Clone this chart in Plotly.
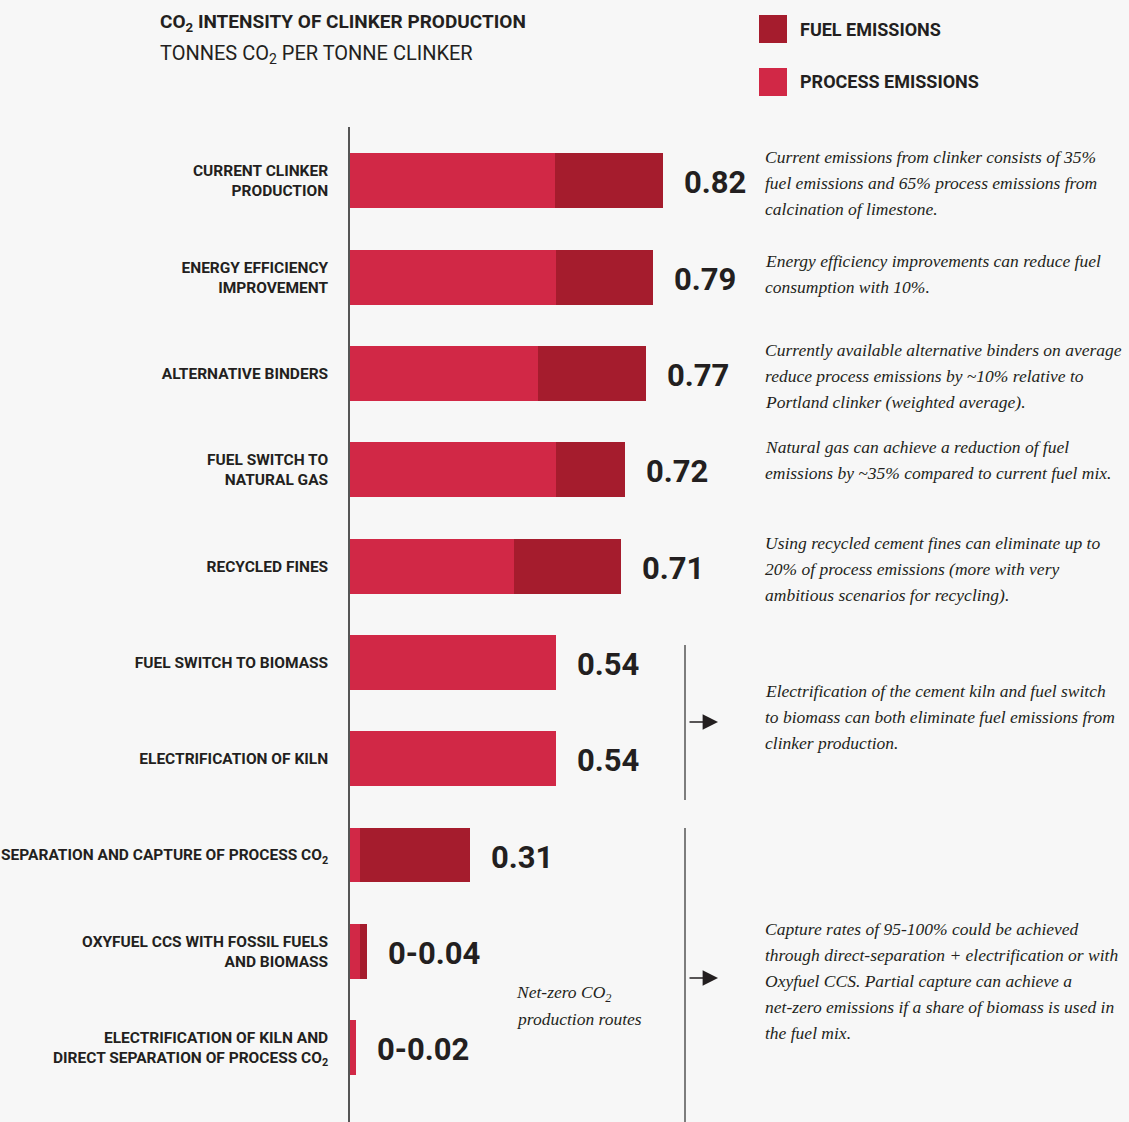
import plotly.graph_objects as go

# ---- data ----
categories = [
    "CURRENT CLINKER<br>PRODUCTION",
    "ENERGY EFFICIENCY<br>IMPROVEMENT",
    "ALTERNATIVE BINDERS",
    "FUEL SWITCH TO<br>NATURAL GAS",
    "RECYCLED FINES",
    "FUEL SWITCH TO BIOMASS",
    "ELECTRIFICATION OF KILN",
    "SEPARATION AND CAPTURE OF PROCESS CO<sub>2</sub>",
    "OXYFUEL CCS WITH FOSSIL FUELS<br>AND BIOMASS",
    "ELECTRIFICATION OF KILN AND<br>DIRECT SEPARATION OF PROCESS CO<sub>2</sub>",
]
process_emissions = [0.537, 0.54, 0.493, 0.54, 0.43, 0.54, 0.54, 0.026, 0.026, 0.016]
fuel_emissions = [0.283, 0.254, 0.283, 0.18, 0.28, 0.0, 0.0, 0.288, 0.018, 0.0]
value_labels = ["0.82", "0.79", "0.77", "0.72", "0.71", "0.54", "0.54", "0.31", "0-0.04", "0-0.02"]

note_texts = [
    ["Current emissions from clinker consists of 35%",
     "fuel emissions and 65% process emissions from",
     "calcination of limestone."],
    ["Energy efficiency improvements can reduce fuel",
     "consumption with 10%."],
    ["Currently available alternative binders on average",
     "reduce process emissions by ~10% relative to",
     "Portland clinker (weighted average)."],
    ["Natural gas can achieve a reduction of fuel",
     "emissions by ~35% compared to current fuel mix."],
    ["Using recycled cement fines can eliminate up to",
     "20% of process emissions (more with very",
     "ambitious scenarios for recycling)."],
    ["Electrification of the cement kiln and fuel switch",
     "to biomass can both eliminate fuel emissions from",
     "clinker production."],
    ["Capture rates of 95-100% could be achieved",
     "through direct-separation + electrification or with",
     "Oxyfuel CCS. Partial capture can achieve a",
     "net-zero emissions if a share of biomass is used in",
     "the fuel mix."],
]
side_label = ["Net-zero CO<sub>2</sub>", "production routes"]
title_text = "CO<sub>2</sub> INTENSITY OF CLINKER PRODUCTION"
subtitle_text = "TONNES CO<sub>2</sub> PER TONNE CLINKER"

# ---- style / layout ----
PROCESS_C = "#d12846"
FUEL_C = "#a51c2d"
TEXT_C = "#231f20"
BG = "#f7f7f7"
COND = "Roboto, sans-serif"
SERIF = "Liberation Serif, DejaVu Serif, serif"

W, H = 1129, 1122
L, T = 350, 127
PW, PH = W - L, H - T
XSCALE = 381.7  # px per unit
Y0, YSTEP = -0.56, 96.3

NOTE_FIRST_LINE_Y = [157, 261, 350, 447, 543, 691, 929]
LINE = 26
BRACKETS = [(645, 800, 722), (828, H, 978)]


def px(x):
    return (x - L) / PW


def py(y):
    return (H - y) / PH


fig = go.Figure()
fig.add_trace(go.Bar(y=categories, x=process_emissions, orientation="h",
                     marker=dict(color=PROCESS_C, line=dict(width=0)),
                     width=0.57, name="PROCESS EMISSIONS", showlegend=False))
fig.add_trace(go.Bar(y=categories, x=fuel_emissions, orientation="h",
                     marker=dict(color=FUEL_C, line=dict(width=0)),
                     width=0.57, name="FUEL EMISSIONS", showlegend=False))

annotations = []
for cat, p, f, lab in zip(categories, process_emissions, fuel_emissions, value_labels):
    annotations.append(dict(x=p + f, y=cat, xref="x", yref="y", text=lab,
                            showarrow=False, xanchor="left", yanchor="middle",
                            xshift=19, yshift=-2,
                            font=dict(family=COND, size=31, color=TEXT_C, weight="bold")))

NOTE_FONT = dict(family=SERIF, size=17.5, color=TEXT_C, style="italic")
for y0, lines in zip(NOTE_FIRST_LINE_Y, note_texts):
    for k, ln in enumerate(lines):
        annotations.append(dict(x=px(763), y=py(y0 + k * LINE), xref="paper", yref="paper",
                                text=ln, showarrow=False, xanchor="left", yanchor="middle",
                                font=NOTE_FONT))

shapes = []
for b0, b1, ya in BRACKETS:
    shapes.append(dict(type="line", xref="paper", yref="paper", x0=px(685), x1=px(685),
                       y0=py(b0), y1=py(b1), line=dict(color="#555555", width=1.5)))
    annotations.append(dict(x=px(718), y=py(ya), xref="paper", yref="paper",
                            ax=-30, ay=0, text="", showarrow=True, arrowhead=2, arrowsize=2.2,
                            arrowwidth=1.4, arrowcolor=TEXT_C))

for k, ln in enumerate(side_label):
    annotations.append(dict(x=px(514), y=py(993 + k * LINE), xref="paper", yref="paper",
                            text=ln, showarrow=False, xanchor="left", yanchor="middle",
                            font=NOTE_FONT))

# title
annotations.append(dict(x=px(158), y=py(22), xref="paper", yref="paper",
                        text=title_text, showarrow=False,
                        xanchor="left", yanchor="middle",
                        font=dict(family=COND, size=19, color=TEXT_C, weight="bold")))
annotations.append(dict(x=px(158), y=py(54), xref="paper", yref="paper",
                        text=subtitle_text, showarrow=False,
                        xanchor="left", yanchor="middle",
                        font=dict(family=COND, size=20, color=TEXT_C)))

# legend
for name, color, yc in [("FUEL EMISSIONS", FUEL_C, 29), ("PROCESS EMISSIONS", PROCESS_C, 82)]:
    shapes.append(dict(type="rect", xref="paper", yref="paper", x0=px(759), x1=px(787),
                       y0=py(yc - 14), y1=py(yc + 14), fillcolor=color, line=dict(width=0)))
    annotations.append(dict(x=px(798), y=py(yc), xref="paper", yref="paper", text=name,
                            showarrow=False, xanchor="left", yanchor="middle",
                            font=dict(family=COND, size=18, color=TEXT_C, weight="bold")))

fig.update_layout(
    width=W, height=H,
    margin=dict(l=L, r=0, t=T, b=0, pad=0, autoexpand=False),
    paper_bgcolor=BG, plot_bgcolor=BG,
    barmode="stack", bargap=0,
    xaxis=dict(range=[0, PW / XSCALE], visible=False, fixedrange=True, automargin=False),
    yaxis=dict(range=[Y0 + PH / YSTEP, Y0], autorange=False, showgrid=False, zeroline=False,
               automargin=False, fixedrange=True,
               showline=True, linecolor="#555555", linewidth=1.5, ticks="",
               ticklabelstandoff=17,
               tickfont=dict(family=COND, size=15.5, color=TEXT_C, weight="bold")),
    annotations=annotations, shapes=shapes,
    showlegend=False,
)

fig.write_html(
    "out.html",
    config={"displayModeBar": False},
    post_script="document.body.style.margin='0';document.body.style.background='#f7f7f7';",
)
